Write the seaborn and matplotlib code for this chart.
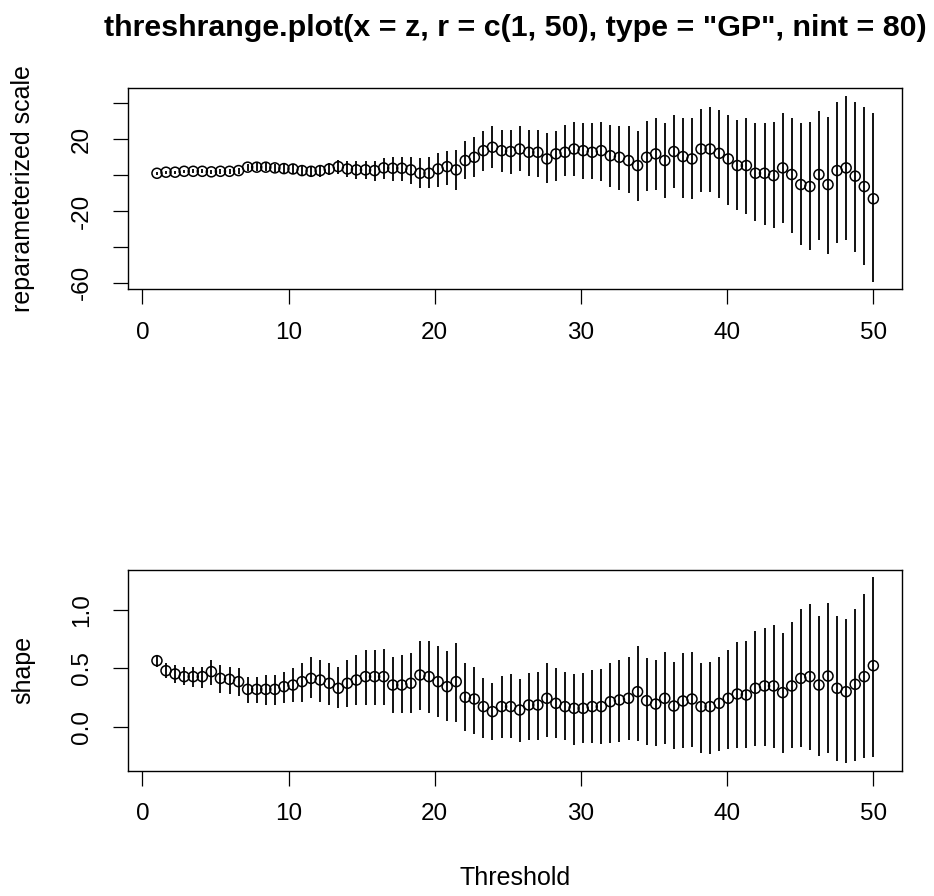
import numpy as np
import pandas as pd
import matplotlib
matplotlib.use("Agg")
import matplotlib.pyplot as plt
import seaborn as sns

# ---- data ----
r_lo, r_hi, nint = 1, 50, 80
thresholds = np.linspace(r_lo, r_hi, nint)

scale_est = [1.0, 1.6, 1.6, 2.1, 2.1, 2.1, 1.8, 2.1, 2.1, 2.5,
             4.4, 4.4, 4.4, 4.0, 3.6, 3.4, 2.5, 2.1, 2.5, 3.4,
             4.7, 3.4, 2.9, 2.9, 2.5, 4.0, 3.8, 3.8, 2.9, 1.0,
             1.0, 3.4, 4.7, 2.9, 8.1, 9.9, 13.6, 15.5, 13.6, 13.1,
             14.5, 12.7, 12.7, 9.0, 11.8, 12.7, 14.5, 13.6, 12.7, 13.6,
             10.8, 9.9, 8.1, 5.3, 9.9, 11.8, 8.1, 13.1, 10.3, 9.0,
             14.5, 14.5, 12.1, 9.0, 5.3, 5.3, 1.0, 1.0, -0.3, 4.0,
             0.3, -5.3, -6.4, 0.3, -5.3, 2.5, 4.0, -0.6, -6.4, -13.2]
scale_lo = [0.3, 0.8, 0.7, 1.1, 1.0, 0.9, 0.5, 0.7, 0.6, 0.8,
            2.4, 2.3, 2.2, 1.6, 1.1, 0.7, -0.4, -0.9, -0.8, -0.2,
            0.8, -1.0, -2.0, -2.3, -3.1, -2.0, -3.1, -3.4, -4.9, -7.3,
            -7.3, -6.4, -5.5, -8.2, -2.1, -1.2, 2.5, 4.0, 1.6, 0.7,
            2.5, -0.3, -1.2, -4.5, -3.1, -0.3, -0.3, -2.1, -2.1, -3.1,
            -6.4, -8.2, -10.1, -14.2, -9.0, -8.2, -12.7, -7.0, -12.7, -13.6,
            -9.2, -9.2, -12.7, -16.4, -19.7, -21.6, -25.8, -27.7, -29.5, -26.8,
            -32.1, -39.2, -41.9, -36.4, -43.8, -37.7, -36.4, -42.9, -49.9, -59.5]
scale_hi = [1.7, 2.4, 2.5, 3.1, 3.2, 3.3, 3.1, 3.5, 3.6, 4.2,
            6.4, 6.5, 6.6, 6.4, 6.1, 6.1, 5.4, 5.1, 5.8, 7.0,
            8.6, 7.8, 7.8, 8.1, 8.1, 9.5, 10.3, 10.3, 9.9, 9.4,
            10.3, 12.1, 13.6, 14.0, 19.2, 21.0, 24.4, 27.1, 25.3, 25.3,
            27.1, 25.3, 25.3, 23.4, 24.7, 28.1, 29.7, 28.8, 28.8, 29.7,
            28.1, 27.1, 27.1, 24.4, 29.9, 31.6, 28.8, 33.4, 31.6, 31.6,
            36.8, 37.7, 36.2, 33.4, 30.6, 31.6, 28.8, 28.8, 29.7, 34.4,
            31.6, 28.8, 29.7, 35.8, 32.5, 40.5, 44.2, 40.5, 37.7, 34.4]

shape_est = [.566, .480, .452, .429, .429, .429, .472, .414, .406, .386,
             .320, .320, .320, .320, .343, .357, .386, .414, .400, .372,
             .329, .372, .400, .429, .429, .429, .357, .357, .372, .443,
             .429, .386, .343, .386, .252, .237, .172, .129, .172, .172,
             .143, .186, .186, .243, .200, .172, .157, .157, .172, .172,
             .214, .229, .243, .300, .223, .194, .243, .177, .220, .237,
             .172, .172, .200, .243, .280, .272, .329, .349, .349, .292,
             .349, .414, .429, .357, .434, .329, .300, .363, .429, .523]
shape_lo = [.514, .414, .372, .357, .337, .329, .357, .292, .280, .263,
            .200, .200, .186, .186, .200, .214, .214, .243, .214, .186,
            .157, .172, .186, .186, .186, .186, .114, .114, .114, .143,
            .114, .080, .052, .043, -.034, -.063, -.100, -.114, -.100, -.100,
            -.128, -.114, -.114, -.086, -.100, -.114, -.157, -.143, -.143, -.148,
            -.143, -.128, -.114, -.120, -.157, -.166, -.148, -.194, -.186, -.171,
            -.223, -.234, -.208, -.194, -.180, -.180, -.166, -.166, -.180, -.223,
            -.180, -.171, -.200, -.248, -.228, -.291, -.314, -.291, -.271, -.257]
shape_hi = [.614, .543, .529, .514, .514, .514, .572, .529, .514, .500,
            .429, .429, .443, .443, .472, .500, .543, .594, .572, .543,
            .514, .572, .614, .657, .657, .663, .594, .614, .634, .734,
            .734, .692, .652, .720, .543, .514, .420, .377, .434, .449,
            .406, .457, .472, .543, .500, .472, .449, .457, .486, .491,
            .543, .572, .594, .692, .586, .572, .643, .557, .629, .643,
            .543, .557, .594, .657, .723, .737, .820, .843, .872, .806,
            .900, 1.006, 1.049, .952, 1.063, .952, .923, 1.006, 1.134, 1.280]

x_ticks = [0, 10, 20, 30, 40, 50]
scale_ticks = [-60, -40, -20, 0, 20, 40]
scale_ticklabels = ["-60", "", "-20", "", "20", ""]
shape_ticks = [0.0, 0.5, 1.0]
shape_ticklabels = ["0.0", "0.5", "1.0"]

title = 'threshrange.plot(x = z, r = c(1, 50), type = "GP", nint = 80)'

# ---- style ----
sns.set_style("white")
plt.rcParams["font.family"] = ["Liberation Sans", "DejaVu Sans"]
plt.rcParams["text.color"] = "black"

W, H = 934, 896
fig = plt.figure(figsize=(W / 100, H / 100), dpi=100)

def frac_axes(x0, y0, x1, y1):
    return fig.add_axes([x0 / W, 1 - y1 / H, (x1 - x0) / W, (y1 - y0) / H])

ax1 = frac_axes(128.3, 88.3, 902, 289.3)
ax2 = frac_axes(128.3, 570, 902, 770.7)

panels = [
    (ax1, scale_est, scale_lo, scale_hi, scale_ticks, scale_ticklabels),
    (ax2, shape_est, shape_lo, shape_hi, shape_ticks, shape_ticklabels),
]

for ax, est, lo, hi, yt, ytl in panels:
    df = pd.DataFrame({"threshold": thresholds, "est": est, "lo": lo, "hi": hi})
    ax.vlines(df["threshold"], df["lo"], df["hi"], color="#111111", lw=1.4, zorder=2)
    sns.scatterplot(data=df, x="threshold", y="est", ax=ax, marker="o", s=52,
                    facecolor="none", edgecolor="black", linewidth=1.1, zorder=3)
    ax.margins(x=0.04, y=0.04)
    ax.set_xticks(x_ticks)
    ax.set_xticklabels([str(t) for t in x_ticks])
    ax.set_yticks(yt)
    ax.set_yticklabels(ytl, rotation=90, va="center")
    ax.set_xlabel("")
    ax.set_ylabel("")
    for sp in ax.spines.values():
        sp.set_visible(True)
        sp.set_color("black")
        sp.set_linewidth(1.0)
    ax.tick_params(axis="both", which="major", bottom=True, left=True,
                   top=False, right=False, direction="out", length=10.5,
                   width=0.9, color="black", labelcolor="black",
                   labelsize=17.5, pad=13)
    ax.tick_params(axis="y", pad=15)
    ax.grid(False)

fig.text(515 / W, 1 - 28 / H, title, ha="center", va="center",
         fontsize=21.9, fontweight="bold", color="black")
fig.text(23 / W, 1 - 188.8 / H, "reparameterized scale", rotation=90,
         ha="center", va="center", fontsize=18, color="black")
fig.text(23 / W, 1 - 670 / H, "shape", rotation=90,
         ha="center", va="center", fontsize=18, color="black")
fig.text(515 / W, 1 - 878 / H, "Threshold", ha="center", va="center",
         fontsize=18, color="black")

fig.savefig("out.png", dpi=100, facecolor="white")
